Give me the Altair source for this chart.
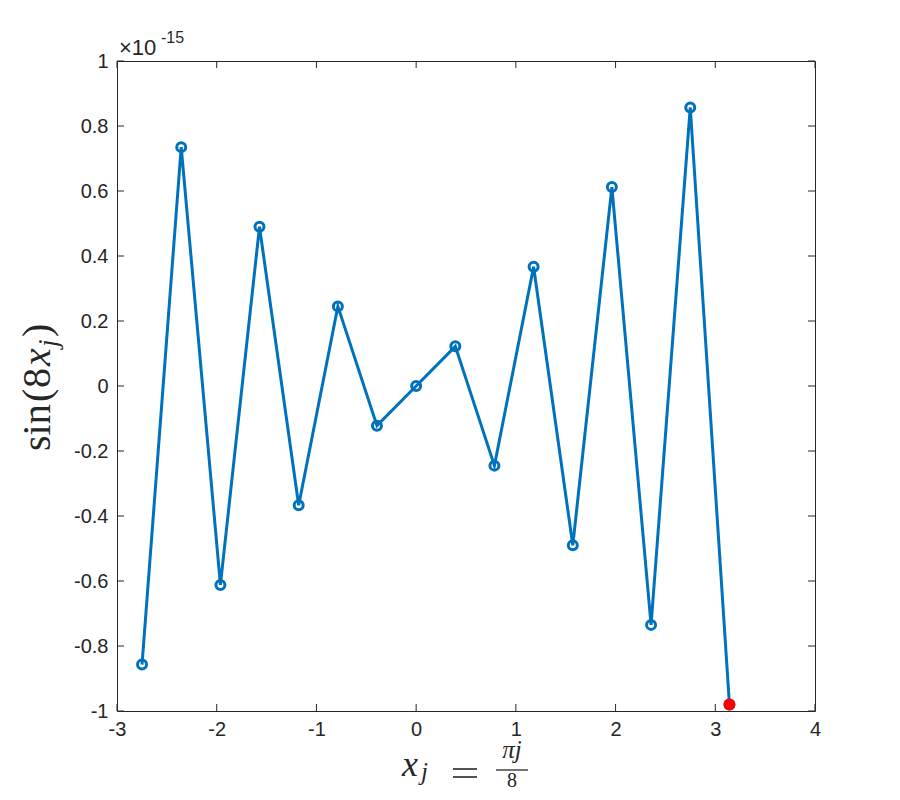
import altair as alt
import pandas as pd

# data (y in units of 1e-15)
x_vals = [-2.749, -2.356, -1.963, -1.571, -1.178, -0.785, -0.393, 0.0,
          0.393, 0.785, 1.178, 1.571, 1.963, 2.356, 2.749, 3.142]
y_vals = [-0.857, 0.735, -0.612, 0.490, -0.367, 0.245, -0.122, 0.0,
          0.122, -0.245, 0.367, -0.490, 0.612, -0.735, 0.857, -0.980]
last_x = [3.142]
last_y = [-0.980]
x_ticks = [-3, -2, -1, 0, 1, 2, 3, 4]
y_ticks = [-1, -0.8, -0.6, -0.4, -0.2, 0, 0.2, 0.4, 0.6, 0.8, 1]

W, H = 698, 650
TL = 7
BLUE = "#0072BD"
AXC = "#262626"
SERIF = "Liberation Serif"
SANS = "Liberation Sans"

df = pd.DataFrame({"x": x_vals, "y": y_vals})
df_last = pd.DataFrame({"x": last_x, "y": last_y})
dfx = pd.DataFrame({"t": x_ticks})
dfy = pd.DataFrame({"t": y_ticks})
one = pd.DataFrame({"k": [0]})

xs = alt.Scale(domain=[-3, 4], nice=False, zero=False)
ys = alt.Scale(domain=[-1, 1], nice=False, zero=False)
lab = "(datum.value < 0 ? '-' : '') + format(abs(datum.value), '~g')"

xaxis = alt.Axis(values=x_ticks, title=None, grid=False, domain=False, ticks=False,
                 labelFont=SANS, labelFontSize=20, labelColor=AXC, labelPadding=8,
                 labelFlush=False, labelExpr=lab)
yaxis = alt.Axis(values=y_ticks, title=None, grid=False, domain=False, ticks=False,
                 labelFont=SANS, labelFontSize=20, labelColor=AXC, labelPadding=9,
                 labelExpr=lab)

line = alt.Chart(df).mark_line(color=BLUE, strokeWidth=3).encode(
    x=alt.X("x:Q", scale=xs, axis=xaxis),
    y=alt.Y("y:Q", scale=ys, axis=yaxis),
)
pts = alt.Chart(df).mark_point(shape="circle", filled=False, color=BLUE, size=81,
                               strokeWidth=3, opacity=1).encode(
    x=alt.X("x:Q", scale=xs), y=alt.Y("y:Q", scale=ys))
red = alt.Chart(df_last).mark_point(shape="circle", filled=True, color="#FF0000",
                                    size=140, opacity=1).encode(
    x=alt.X("x:Q", scale=xs), y=alt.Y("y:Q", scale=ys))

def xt(y0, y1):
    return alt.Chart(dfx).mark_rule(color=AXC, strokeWidth=1).encode(
        x=alt.X("t:Q", scale=xs), y=alt.value(y0), y2=alt.value(y1))

def yt(x0, x1):
    return alt.Chart(dfy).mark_rule(color=AXC, strokeWidth=1).encode(
        y=alt.Y("t:Q", scale=ys), x=alt.value(x0), x2=alt.value(x1))

def txt(text, x, y, size, font=SERIF, style="normal", angle=0, align="left"):
    return alt.Chart(one).mark_text(text=text, fontSize=size, font=font, fontStyle=style,
                                    angle=angle, align=align, baseline="alphabetic",
                                    color=AXC).encode(x=alt.value(x), y=alt.value(y))

def hbar(x0, x1, y, w=1.3):
    return alt.Chart(one).mark_rule(color=AXC, strokeWidth=w).encode(
        x=alt.value(x0), x2=alt.value(x1), y=alt.value(y))

layers = [
    xt(H, H - TL), xt(0, TL), yt(0, TL), yt(W, W - TL),
    line, pts, red,
    # exponent label
    txt("×10", 2, -6, 22, font=SANS),
    txt("-15", 44, -18, 16, font=SANS),
    # x label: x_j = pi j / 8
    txt("x", 285, 715, 36, style="italic"),
    txt("j", 304, 719, 25, style="italic"),
    hbar(336, 360, 708, 1.6),
    hbar(336, 360, 716, 1.6),
    txt("πj", 395, 697, 25, style="italic", align="center"),
    hbar(379, 411, 709),
    txt("8", 395, 726, 20, align="center"),
    # y label: sin(8 x_j)
    txt("sin", -67, 390, 40, angle=270),
    txt("(", -67, 341, 40, angle=270),
    txt("8", -67, 327, 40, angle=270),
    txt("x", -67, 305, 40, style="italic", angle=270),
    txt("j", -60, 286, 27, style="italic", angle=270),
    txt(")", -67, 276, 40, angle=270),
]

chart = alt.layer(*layers).properties(
    width=W, height=H,
    autosize=alt.AutoSizeParams(type="none"),
    padding={"left": 109, "top": 53, "right": 70, "bottom": 81},
).configure_view(stroke=AXC, strokeWidth=1)

chart.save("out.html", embed_options={"renderer": "svg", "actions": False})
